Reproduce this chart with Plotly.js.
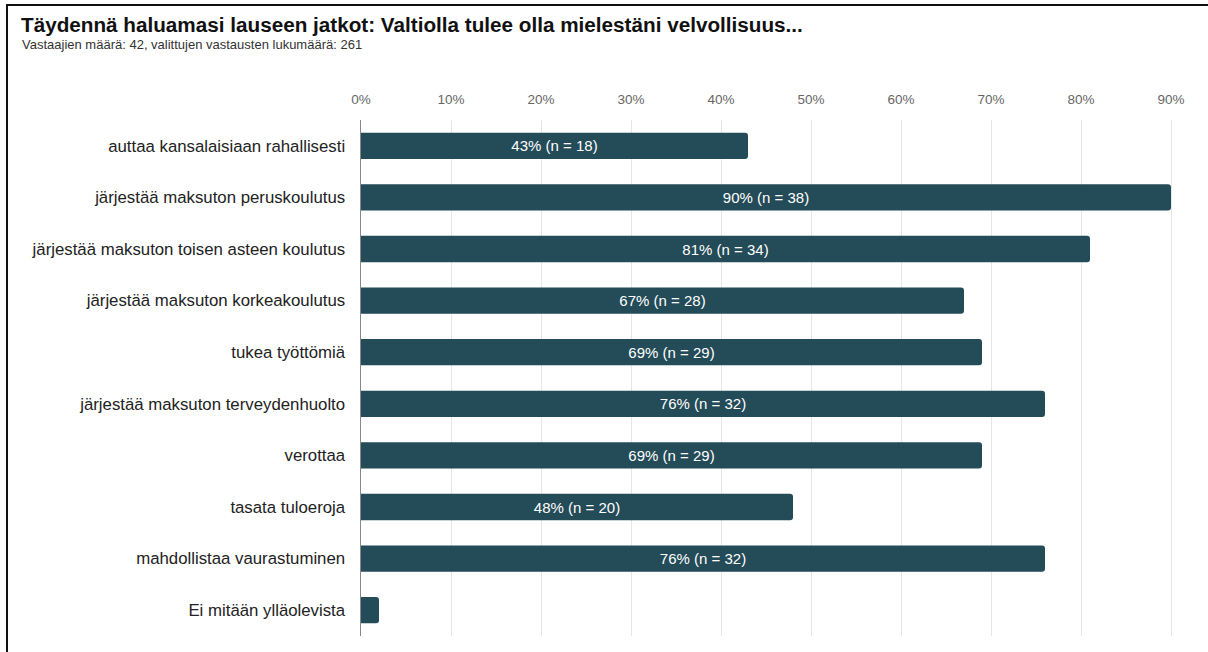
<!DOCTYPE html>
<html>
<head>
<meta charset="utf-8">
<script src="https://cdn.plot.ly/plotly-3.0.1.min.js"></script>
<style>
  html, body { margin: 0; padding: 0; background: #fff; }
  #frame {
    position: absolute; left: 6px; top: 4px; width: 1202px; height: 648px;
    border-left: 2px solid #111; border-top: 2px solid #111;
  }
  #chart { position: absolute; left: 0; top: 0; width: 1208px; height: 652px; }
</style>
</head>
<body>
<div id="chart"></div>
<div id="frame"></div>
<script>
  // vastausvaihtoehdot ylhäältä alas
  const options = [
    'auttaa kansalaisiaan rahallisesti',
    'järjestää maksuton peruskoulutus',
    'järjestää maksuton toisen asteen koulutus',
    'järjestää maksuton korkeakoulutus',
    'tukea työttömiä',
    'järjestää maksuton terveydenhuolto',
    'verottaa',
    'tasata tuloeroja',
    'mahdollistaa vaurastuminen',
    'Ei mitään ylläolevista',
  ];
  const percents = [43, 90, 81, 67, 69, 76, 69, 48, 76, 2];
  const counts = [18, 38, 34, 28, 29, 32, 29, 20, 32, 1];
  const tickValues = [0, 10, 20, 30, 40, 50, 60, 70, 80, 90];
  const tickLabels = tickValues.map((v) => v + '%');

  const FONT = 'Liberation Sans, Arial, sans-serif';
  const BAR = '#234b58';

  const labels = percents.map((p, i) => (p >= 5 ? `${p}% (n = ${counts[i]})` : ''));

  Plotly.newPlot('chart', [{
    type: 'bar',
    orientation: 'h',
    y: options,
    x: percents,
    text: labels,
    textposition: 'inside',
    insidetextanchor: 'middle',
    textangle: 0,
    insidetextfont: { family: FONT, size: 15, color: '#ffffff' },
    marker: { color: BAR, cornerradius: 3 },
    hoverinfo: 'none',
  }], {
    width: 1208,
    height: 652,
    paper_bgcolor: '#fff',
    plot_bgcolor: '#fff',
    font: { family: FONT, color: '#222' },
    margin: { t: 120, r: 28, b: 16, l: 361 },
    bargap: 0.49,
    showlegend: false,
    title: {
      text: '<b>Täydennä haluamasi lauseen jatkot: Valtiolla tulee olla mielestäni velvollisuus...</b>',
      font: { family: FONT, size: 20.7, color: '#111' },
      x: 21 / 1208, xanchor: 'left', xref: 'container',
      y: 1 - 25 / 652, yanchor: 'middle', yref: 'container',
    },
    annotations: [{
      text: 'Vastaajien määrä: 42, valittujen vastausten lukumäärä: 261',
      xref: 'paper', yref: 'paper',
      x: (20 - 361) / 819, y: 1 + (120 - 45) / 516,
      xanchor: 'left', yanchor: 'middle',
      showarrow: false,
      font: { family: FONT, size: 13, color: '#333' },
    }],
    xaxis: {
      side: 'top',
      range: [0, 91],
      tickvals: tickValues,
      ticktext: tickLabels,
      tickfont: { family: FONT, size: 13.5, color: '#666' },
      ticks: '',
      ticklabelstandoff: 12,
      showgrid: true,
      gridcolor: '#e6e6e6',
      gridwidth: 1,
      zeroline: false,
      showline: false,
      fixedrange: true,
    },
    yaxis: {
      autorange: 'reversed',
      tickfont: { family: FONT, size: 16.8, color: '#222' },
      ticks: '',
      ticklabelstandoff: 11,
      showgrid: false,
      showline: true,
      linecolor: '#888',
      linewidth: 1.5,
      fixedrange: true,
    },
  }, { displayModeBar: false, staticPlot: true });
</script>
</body>
</html>
